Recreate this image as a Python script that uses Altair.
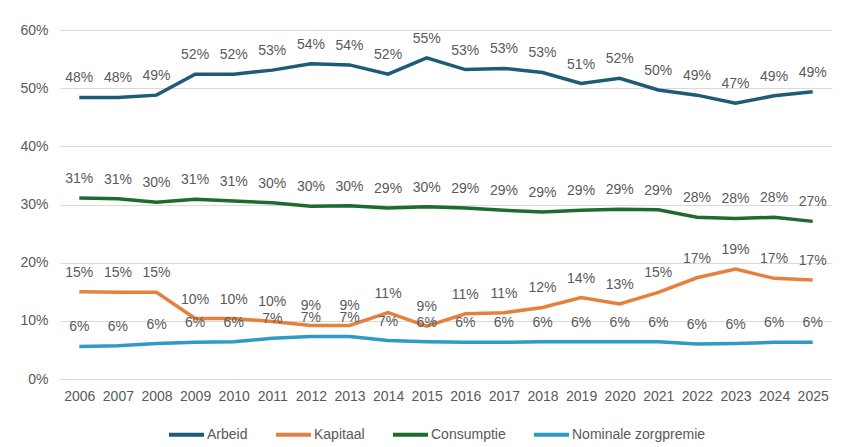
import altair as alt
import pandas as pd

years = [str(y) for y in range(2006, 2026)]
series = ["Arbeid", "Kapitaal", "Consumptie", "Nominale zorgpremie"]
colors = ["#1d5b79", "#e5813f", "#1e6b32", "#2e9ac7"]

arbeid = [48.4, 48.4, 48.8, 52.4, 52.4, 53.1, 54.2, 54.0, 52.4, 55.2,
          53.2, 53.4, 52.7, 50.8, 51.7, 49.7, 48.8, 47.4, 48.7, 49.4]
kapitaal = [15.0, 14.9, 14.9, 10.4, 10.4, 9.9, 9.2, 9.2, 11.4, 9.1,
            11.2, 11.4, 12.3, 14.0, 12.9, 14.9, 17.4, 18.9, 17.3, 17.0]
consumptie = [31.1, 31.0, 30.4, 30.9, 30.6, 30.3, 29.7, 29.8, 29.4, 29.6,
              29.4, 29.0, 28.7, 29.0, 29.2, 29.1, 27.8, 27.6, 27.8, 27.1]
zorgpremie = [5.6, 5.7, 6.1, 6.3, 6.4, 7.0, 7.3, 7.3, 6.6, 6.4,
              6.3, 6.3, 6.4, 6.4, 6.4, 6.4, 6.0, 6.1, 6.3, 6.3]

rows = []
for name, vals in zip(series, [arbeid, kapitaal, consumptie, zorgpremie]):
    for y, v in zip(years, vals):
        rows.append({"jaar": y, "reeks": name, "waarde": v / 100.0,
                     "label": f"{int(v + 0.5)}%"})
df = pd.DataFrame(rows)

font = "Liberation Sans"
gray = "#595959"

x = alt.X("jaar:O", scale=alt.Scale(type="point", padding=0.5),
          axis=alt.Axis(title=None, labelAngle=0, ticks=False, domain=False,
                        labelFontSize=14, labelColor=gray, labelFont=font,
                        labelPadding=10))
y = alt.Y("waarde:Q", scale=alt.Scale(domain=[0, 0.6], nice=False),
          axis=alt.Axis(title=None, format=".0%", values=[0, 0.1, 0.2, 0.3, 0.4, 0.5, 0.6],
                        ticks=False, domain=False, labelFontSize=14, labelColor=gray,
                        labelFont=font, labelPadding=12, gridColor="#d9d9d9"))
color = alt.Color("reeks:N", scale=alt.Scale(domain=series, range=colors),
                  legend=alt.Legend(title=None, orient="none", direction="horizontal",
                                    legendX=107, legendY=385, padding=0,
                                    symbolType="stroke", symbolSize=1225,
                                    symbolStrokeWidth=4, labelFontSize=14,
                                    labelColor=gray, labelFont=font,
                                    columnPadding=20, labelOffset=1))

base = alt.Chart(df)
lines = base.mark_line(strokeWidth=3.5).encode(x=x, y=y, color=color,
                                                order=alt.Order("jaar:O"))
labels = base.mark_text(dy=-19, fontSize=14, color=gray, font=font).encode(
    x="jaar:O", y="waarde:Q", text="label:N")

chart = alt.layer(lines, labels).properties(
    width=772, height=349,
    autosize=alt.AutoSizeParams(type="none"),
    padding={"left": 52, "top": 22, "right": 2, "bottom": 68},
).configure_view(stroke=None)

chart.save("out.html", embed_options={"renderer": "svg", "actions": False})
